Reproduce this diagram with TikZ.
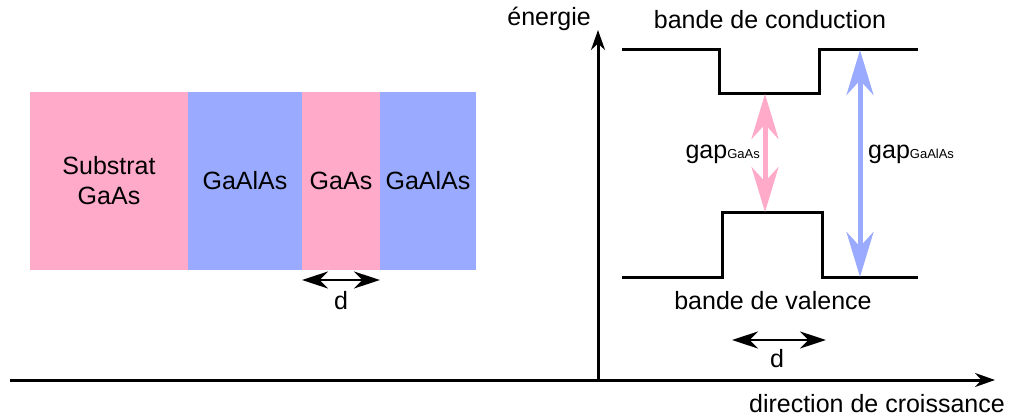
\documentclass[tikz,border=0pt]{standalone}
\usepackage{fontspec}
\setmainfont{Liberation Sans}
\usetikzlibrary{arrows.meta}
\definecolor{rose}{RGB}{255,170,200}
\definecolor{bleu}{RGB}{153,170,255}
\tikzset{
  couche/.style={inner sep=0pt, outer sep=0pt, align=center, font=\fontsize{25}{30}\selectfont},
  txt/.style={inner sep=0pt, font=\fontsize{25}{30}\selectfont},
  bande/.style={line width=3pt},
  axe/.style={line width=3pt, -{Stealth[length=20pt,width=14pt]}},
  largeur/.style={line width=2.5pt, {Stealth[length=26pt,width=17pt]}-{Stealth[length=26pt,width=17pt]}},
  gapfleche/.style={line width=5pt, {Stealth[length=45pt,width=27pt]}-{Stealth[length=45pt,width=27pt]}}
}
\newcommand{\gapsub}[1]{gap{\fontsize{13}{15}\selectfont #1}}
\begin{document}
\begin{tikzpicture}[x=1pt,y=-1pt]
\useasboundingbox (0,0) rectangle (1009,417);

% Couches de l'echantillon
\node[couche, fill=rose, minimum width=158pt, minimum height=178pt] (sub) at (109,181) {Substrat\\GaAs};
\node[couche, fill=bleu, minimum width=114pt, minimum height=178pt] (alas1) at (245,181) {GaAlAs};
\node[couche, fill=rose, minimum width=78pt, minimum height=178pt] (puits) at (341,181) {GaAs};
\node[couche, fill=bleu, minimum width=96pt, minimum height=178pt] (alas2) at (428,181) {GaAlAs};

% Epaisseur du puits
\coordinate (dg) at (302,280);
\coordinate (dd) at (380,280);
\draw[largeur] (dg) -- (dd);
\node[txt] (d1) at (341,301) {d};

% Axes
\coordinate (o) at (598,380);
\coordinate (gauche) at (10,380);
\coordinate (droite) at (995,380);
\coordinate (haut) at (598,30);
\draw[axe] (gauche) -- (droite);
\draw[axe] (o) -- (haut);
\node[txt, anchor=east] (energie) at (591,19) {énergie};
\node[txt, anchor=base east] (direction) at (1005,412) {direction de croissance};

% Bande de conduction
\coordinate (c1) at (622,50);
\coordinate (c2) at (719,50);
\coordinate (c3) at (719,94);
\coordinate (c4) at (819,94);
\coordinate (c5) at (819,50);
\coordinate (c6) at (918,50);
\draw[bande] (c1) -- (c2) -- (c3) -- (c4) -- (c5) -- (c6);
\node[txt] (conduction) at (770,20) {bande de conduction};

% Bande de valence
\coordinate (v1) at (622,277);
\coordinate (v2) at (722,277);
\coordinate (v3) at (722,212);
\coordinate (v4) at (822,212);
\coordinate (v5) at (822,277);
\coordinate (v6) at (918,277);
\draw[bande] (v1) -- (v2) -- (v3) -- (v4) -- (v5) -- (v6);
\node[txt] (valence) at (773,301) {bande de valence};

% Gaps
\coordinate (gh) at (765,94);
\coordinate (gb) at (765,212);
\draw[gapfleche, rose] (gh) -- (gb);
\node[txt, anchor=base east] (gapGaAs) at (760,158) {\gapsub{GaAs}};
\coordinate (Gh) at (860,50);
\coordinate (Gb) at (860,277);
\draw[gapfleche, bleu] (Gh) -- (Gb);
\node[txt, anchor=base west] (gapGaAlAs) at (868,158) {\gapsub{GaAlAs}};

% Epaisseur sur le diagramme
\coordinate (eg) at (732,340);
\coordinate (ed) at (826,340);
\draw[largeur] (eg) -- (ed);
\node[txt] (d2) at (777,359) {d};
\end{tikzpicture}
\end{document}
